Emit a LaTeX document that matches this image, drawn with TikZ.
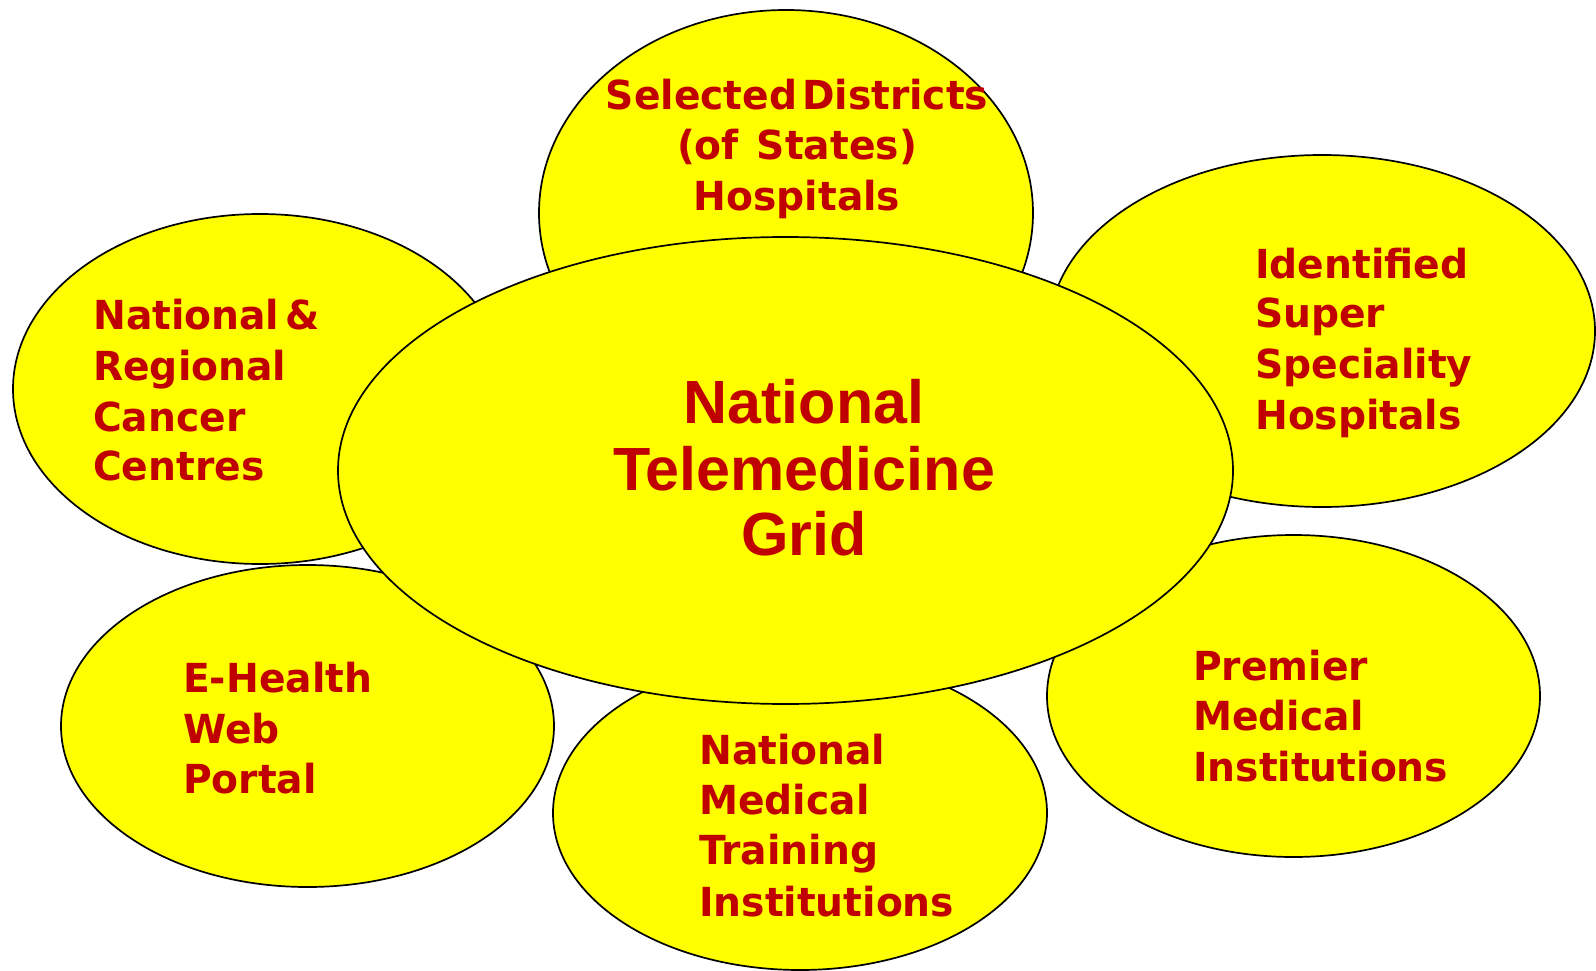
\documentclass[tikz,border=0pt]{standalone}
\usepackage{fontspec}
\usetikzlibrary{shapes.geometric}
\setmainfont{DejaVu Sans}
\newfontfamily\petalfont{DejaVu Sans}[FakeStretch=0.98]
\newfontfamily\hubfont{Liberation Sans}
\definecolor{petalyellow}{RGB}{255,255,0}
\definecolor{labelred}{RGB}{192,0,0}
\begin{document}
\begin{tikzpicture}[x=1pt,y=-1pt,
  petal/.style={ellipse, draw=black, line width=1.7pt, fill=petalyellow, inner sep=0pt},
  lbl/.style={anchor=base west, inner sep=0pt, text=labelred, font=\petalfont\bfseries\fontsize{40}{48}\selectfont},
  clbl/.style={lbl, anchor=base},
  hub/.style={anchor=base, inner sep=0pt, text=labelred, font=\hubfont\bfseries\fontsize{61}{70}\selectfont}]
\useasboundingbox (0,0) rectangle (1596,971);
% petals
\node[petal, minimum width=494pt, minimum height=406pt] (districts) at (786,213) {};
\node[petal, minimum width=546pt, minimum height=352pt] (superspec) at (1322,331) {};
\node[petal, minimum width=494pt, minimum height=350pt] (cancer) at (260,389) {};
\node[petal, minimum width=493pt, minimum height=322pt] (ehealth) at (307.5,726) {};
\node[petal, minimum width=494pt, minimum height=314pt] (training) at (800,813) {};
\node[petal, minimum width=493pt, minimum height=322pt] (premier) at (1293.5,696) {};
% hub
\node[petal, minimum width=895pt, minimum height=467pt] (grid) at (785.5,470.5) {};
% hub text
\node[hub] (g1) at (804,423) {National};
\node[hub] (g2) at (804,490) {Telemedicine};
\node[hub] (g3) at (804,555) {Grid};
% top petal
\node[clbl] (d1) at (797,110) {Selected\hspace{0.12em}Districts};
\node[clbl] (d2) at (797,160) {(of\hspace{0.45em}States)};
\node[clbl] (d3) at (797,211) {Hospitals};
% right top petal
\node[lbl] (s1) at (1255,278) {Identified};
\node[lbl] (s2) at (1255,327) {Super};
\node[lbl] (s3) at (1255,378) {Speciality};
\node[lbl] (s4) at (1255,429) {Hospitals};
% left top petal
\node[lbl] (c1) at (93,329) {National\hspace{0.15em}\&};
\node[lbl] (c2) at (93,380) {Regional};
\node[lbl] (c3) at (93,431) {Cancer};
\node[lbl] (c4) at (93,480) {Centres};
% left bottom petal
\node[lbl] (e1) at (183,692) {E-Health};
\node[lbl] (e2) at (183,743) {Web};
\node[lbl] (e3) at (183,793) {Portal};
% bottom petal
\node[lbl] (t1) at (699,764) {National};
\node[lbl] (t2) at (699,814) {Medical};
\node[lbl] (t3) at (699,864) {Training};
\node[lbl] (t4) at (699,916) {Institutions};
% right bottom petal
\node[lbl] (p1) at (1193,680) {Premier};
\node[lbl] (p2) at (1193,730) {Medical};
\node[lbl] (p3) at (1193,781) {Institutions};
\end{tikzpicture}
\end{document}
